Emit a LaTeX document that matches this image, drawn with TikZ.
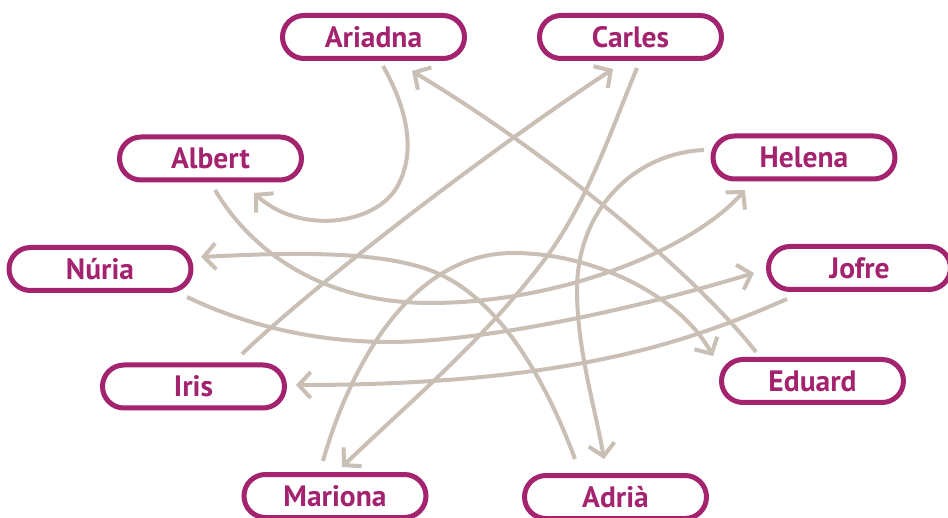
\documentclass[tikz,border=0pt]{standalone}
\usepackage{fontspec}
\setmainfont{PT Sans}
\usetikzlibrary{arrows.meta}
\definecolor{plum}{RGB}{163,35,111}
\definecolor{tanline}{RGB}{201,191,181}
\begin{document}
\begin{tikzpicture}[x=1pt,y=-1pt,
  person/.style={draw=plum, line width=5pt, rounded corners=21.5pt,
    minimum width=182pt, minimum height=43pt, inner sep=0pt,
    font=\fontsize{29.5}{31}\selectfont\bfseries, text=plum,
    text height=20.6pt, text depth=0pt},
  link/.style={draw=tanline, line width=4pt,
    -{Straight Barb[length=12pt,width=26pt]}}]
\useasboundingbox (0,0) rectangle (948,518);
\node[person] (ari) at (373.5,37) {Ariadna};
\node[person] (car) at (630.5,37) {Carles};
\node[person] (alb) at (210.5,158.5) {Albert};
\node[person] (hel) at (804,157.5) {Helena};
\node[person] (nur) at (100,269) {Núria};
\node[person] (jof) at (859.5,268) {Jofre};
\node[person] (iri) at (193.5,386.5) {Iris};
\node[person] (edu) at (812.5,381) {Eduard};
\node[person] (mar) at (335,496) {Mariona};
\node[person] (adr) at (615.5,497) {Adrià};
% Ariadna -> Albert
\draw[link] ([shift={(9.5,29)}]ari.center) .. controls (405,105) and (418,150) .. (397,187)
  .. controls (375,225) and (300,235) .. ([shift={(43.5,34.5)}]alb.center);
% Eduard -> Ariadna
\draw[link] ([shift={(-56.5,-29)}]edu.center) .. controls (700,280) and (560,160) .. ([shift={(38.5,34)}]ari.center);
% Iris -> Carles
\draw[link] ([shift={(48.5,-32.5)}]iri.center) .. controls (320,280) and (490,150) .. ([shift={(-17.5,32)}]car.center);
% Carles -> Mariona
\draw[link] ([shift={(6.5,31)}]car.center) .. controls (610,133) and (587,203) .. (545,259)
  .. controls (485,339) and (414,398) .. ([shift={(7,-29)}]mar.center);
% Helena -> Adria
\draw[link] ([shift={(-100,-7.5)}]hel.center) .. controls (634,153) and (577,210) .. (577,290)
  .. controls (577,350) and (595.5,409) .. ([shift={(-11.5,-38)}]adr.center);
% Albert -> Helena
\draw[link] ([shift={(4.5,31.5)}]alb.center) .. controls (250.7,250) and (320,303) .. (430,303)
  .. controls (560,303) and (692,250) .. ([shift={(-59,32.5)}]hel.center);
% Nuria -> Jofre
\draw[link] ([shift={(87,28)}]nur.center) .. controls (241,323) and (310,342) .. (390,342)
  .. controls (470,342) and (610,316.5) .. ([shift={(-105.5,5)}]jof.center);
% Jofre -> Iris
\draw[link] ([shift={(-72.5,31)}]jof.center) .. controls (695,339) and (576,385) .. ([shift={(102.5,-1.5)}]iri.center);
% Adria -> Nuria
\draw[link] ([shift={(-40.5,-38)}]adr.center) .. controls (550.5,393) and (505.7,303) .. (437,273)
  .. controls (382,249) and (281,253) .. ([shift={(101,-12)}]nur.center);
% Mariona -> Eduard
\draw[link] ([shift={(-12,-35)}]mar.center) .. controls (344.6,384) and (403,253) .. (513,253)
  .. controls (593,253) and (679.4,295) .. ([shift={(-99.5,-25)}]edu.center);
\end{tikzpicture}
\end{document}
